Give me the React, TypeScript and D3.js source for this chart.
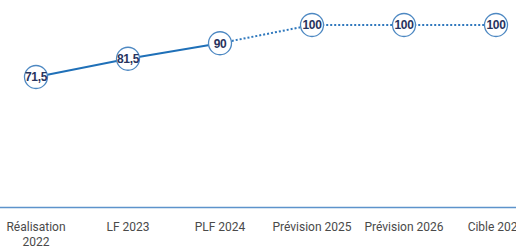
import React, { useRef, useEffect } from 'react';
import * as d3 from 'd3';

const categories = [['Réalisation', '2022'], ['LF 2023'], ['PLF 2024'], ['Prévision 2025'], ['Prévision 2026'], ['Cible 2027']];
const values = [71.5, 81.5, 90, 100, 100, 100];
const labels = ['71,5', '81,5', '90', '100', '100', '100'];
const lastActual = 2; // PLF 2024, then forecast dotted

function App() {
  const ref = useRef<SVGSVGElement>(null);

  useEffect(() => {
    const svg = d3.select(ref.current);
    svg.selectAll('*').remove();

    const x = d3.scalePoint<number>()
      .domain(d3.range(categories.length))
      .range([36, 496]);
    const y = d3.scaleLinear().domain([0, 100]).range([207.5, 25]);

    // baseline
    svg.append('line')
      .attr('x1', 0).attr('x2', 516)
      .attr('y1', y(0)).attr('y2', y(0))
      .attr('stroke', '#5d93cb')
      .attr('stroke-width', 1.3);

    const line = d3.line<number>()
      .x((d, i) => x(i) as number)
      .y(d => y(d));

    const solid = values.map((v, i) => ({ v, i })).filter(d => d.i <= lastActual);
    const dotted = values.map((v, i) => ({ v, i })).filter(d => d.i >= lastActual);

    const line2 = d3.line<{ v: number; i: number }>()
      .x(d => x(d.i) as number)
      .y(d => y(d.v));

    svg.append('path')
      .datum(solid)
      .attr('fill', 'none')
      .attr('stroke', '#1f70b8')
      .attr('stroke-width', 2)
      .attr('d', line2);

    svg.append('path')
      .datum(dotted)
      .attr('fill', 'none')
      .attr('stroke', '#2f78bd')
      .attr('stroke-width', 2)
      .attr('stroke-dasharray', '2,2')
      .attr('d', line2);

    const pts = svg.selectAll('g.pt')
      .data(values)
      .enter()
      .append('g')
      .attr('class', 'pt')
      .attr('transform', (d, i) => 'translate(' + x(i) + ',' + y(d) + ')');

    pts.append('circle')
      .attr('r', 11.5)
      .attr('fill', 'white')
      .attr('stroke', '#4d88c2')
      .attr('stroke-width', 1.3);

    pts.append('text')
      .text((d, i) => labels[i])
      .attr('text-anchor', 'middle')
      .attr('dy', '0.36em')
      .attr('font-family', 'Liberation Sans, Arial, sans-serif')
      .attr('font-weight', 'bold')
      .attr('font-size', 12)
      .attr('letter-spacing', -0.3)
      .attr('fill', '#28335e');

    const ticks = svg.selectAll('text.cat')
      .data(categories)
      .enter()
      .append('text')
      .attr('class', 'cat')
      .attr('x', (d, i) => x(i) as number)
      .attr('y', 230.5)
      .attr('text-anchor', 'middle')
      .attr('font-family', 'Roboto, sans-serif')
      .attr('font-size', 12)
      .attr('fill', '#4a4a4a');

    ticks.selectAll('tspan')
      .data(d => d)
      .enter()
      .append('tspan')
      .attr('x', function () { return (this.parentNode as SVGTextElement).getAttribute('x'); })
      .attr('dy', (d, i) => (i === 0 ? 0 : 15))
      .text(d => d);

    void line;
  }, []);

  return (
    <svg ref={ref} width={516} height={246}
      style={{ position: 'absolute', left: 0, top: 0, background: 'white' }} />
  );
}

export default App;
